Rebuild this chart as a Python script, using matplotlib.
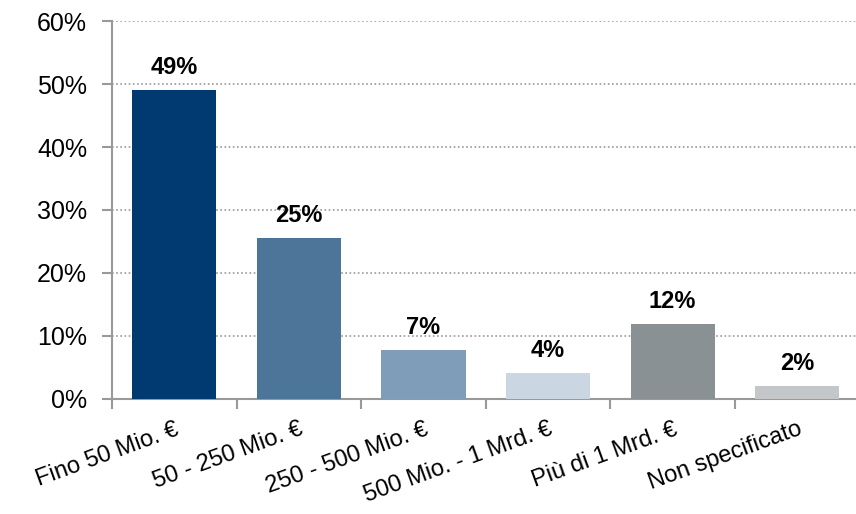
import matplotlib.pyplot as plt
import numpy as np

plt.rcParams['font.family'] = ['Liberation Sans', 'DejaVu Sans']

# Data
categories = ['Fino 50 Mio. €', '50 - 250 Mio. €', '250 - 500 Mio. €',
              '500 Mio. - 1 Mrd. €', 'Più di 1 Mrd. €', 'Non specificato']
values = [49.1, 25.6, 7.7, 4.1, 11.9, 2.1]
labels = ['49%', '25%', '7%', '4%', '12%', '2%']
colors = ['#003A70', '#4D7599', '#7F9DB8', '#CAD7E2', '#8A9195', '#C4C7C9']

fig = plt.figure(figsize=(8.56, 5.14), dpi=100)
ax = fig.add_axes([0.131, 0.224, 0.873, 0.735])

x = np.arange(len(categories))
bars = ax.bar(x, values, width=0.675, color=colors, zorder=3)

for b, lab in zip(bars, labels):
    ax.annotate(lab, (b.get_x() + b.get_width() / 2, b.get_height()),
                xytext=(0, 8), textcoords='offset points',
                ha='center', va='bottom', fontsize=17, fontweight='bold')

ax.set_xlim(-0.5, len(categories) - 0.5)
ax.set_ylim(0, 60)
ax.set_yticks(range(0, 61, 10))
ax.set_yticklabels([f'{v}%' for v in range(0, 61, 10)], fontsize=18)

# x ticks at category boundaries, labels at centers
ax.set_xticks(np.arange(-0.5, len(categories), 1))
ax.set_xticklabels([])
ax.set_xticks(x, minor=True)
ax.set_xticklabels(categories, minor=True, rotation=20, ha='right',
                   rotation_mode='anchor', fontsize=17)
ax.tick_params(axis='x', which='minor', length=0, pad=14)
ax.tick_params(axis='x', which='major', length=7, width=1.5, color='#999999', direction='out')
ax.tick_params(axis='y', length=7, width=1.5, color='#999999', direction='out', pad=11)

ax.yaxis.grid(True, linestyle=(0, (1, 1.5)), color='#999999', linewidth=1.2, zorder=0)
for s in ['top', 'right']:
    ax.spines[s].set_visible(False)
for s in ['left', 'bottom']:
    ax.spines[s].set_color('#999999')
    ax.spines[s].set_linewidth(1.5)

fig.savefig('out.png', dpi=100)
